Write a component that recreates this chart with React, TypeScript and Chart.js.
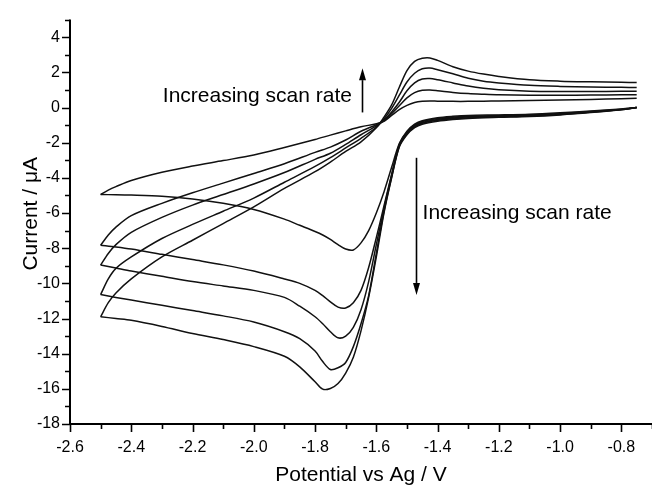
import { useEffect, useRef } from 'react';
import { Chart, registerables } from 'chart.js';

Chart.register(...registerables);

// ---- Data (potential in V vs Ag, current in µA) ----
const forwardPotentials = [
  -0.75, -0.8, -0.9, -1.0, -1.1, -1.2, -1.3, -1.35, -1.4, -1.45, -1.475, -1.5, -1.525, -1.55, -1.575,
  -1.6, -1.625, -1.65, -1.675, -1.7, -1.725, -1.75, -1.775, -1.8, -1.85, -1.9, -2.0, -2.1, -2.2, -2.3,
  -2.4, -2.45, -2.5,
];
const reversePotentials = [
  -2.5, -2.475, -2.45, -2.4, -2.3, -2.2, -2.1, -2.0, -1.9, -1.8, -1.75, -1.7, -1.65, -1.6, -1.575,
  -1.55, -1.525, -1.5, -1.475, -1.45, -1.425, -1.4, -1.35, -1.3, -1.25, -1.2, -1.1, -1.0, -0.9, -0.8, -0.75,
];

const forward1 = [
  0.0, -0.08, -0.2, -0.3, -0.38, -0.42, -0.45, -0.5, -0.58, -0.75, -0.95, -1.35, -2.05, -3.4, -4.8,
  -6.0, -7.0, -7.7, -8.1, -8.05, -7.8, -7.5, -7.25, -7.05, -6.7, -6.35, -5.8, -5.45, -5.2, -5.05,
  -4.98, -4.96, -4.95,
];
const forward2 = [
  0.0, -0.1, -0.23, -0.34, -0.42, -0.46, -0.5, -0.55, -0.63, -0.8, -1.0, -1.4, -2.1, -3.8, -5.6,
  -7.4, -9.1, -10.4, -11.1, -11.4, -11.35, -11.05, -10.7, -10.4, -10.0, -9.75, -9.3, -8.95, -8.65, -8.35,
  -8.05, -7.93, -7.83,
];
const forward3 = [
  0.0, -0.11, -0.25, -0.37, -0.45, -0.5, -0.54, -0.6, -0.68, -0.85, -1.05, -1.45, -2.15, -3.85, -5.75,
  -7.8, -9.9, -11.5, -12.5, -13.0, -13.1, -12.75, -12.3, -11.9, -11.3, -10.8, -10.4, -10.15, -9.9, -9.6,
  -9.3, -9.13, -8.96,
];
const forward4 = [
  0.0, -0.12, -0.27, -0.4, -0.48, -0.53, -0.58, -0.64, -0.73, -0.9, -1.1, -1.5, -2.2, -3.95, -5.9,
  -8.3, -10.7, -12.3, -13.6, -14.5, -14.8, -14.9, -14.45, -13.85, -13.15, -12.75, -12.2, -11.85, -11.55, -11.25,
  -10.95, -10.8, -10.64,
];
const forward5 = [
  0.0, -0.13, -0.29, -0.42, -0.51, -0.56, -0.62, -0.68, -0.78, -0.95, -1.15, -1.55, -2.25, -4.0, -6.0,
  -8.5, -10.8, -12.7, -14.2, -15.1, -15.7, -15.98, -16.02, -15.6, -14.75, -14.15, -13.6, -13.2, -12.85, -12.45,
  -12.1, -12.0, -11.9,
];

const reverse1 = [
  -4.95, -4.7, -4.5, -4.15, -3.68, -3.33, -3.02, -2.7, -2.27, -1.82, -1.57, -1.33, -1.1, -0.92, -0.78,
  -0.45, -0.12, 0.12, 0.28, 0.35, 0.37, 0.36, 0.35, 0.35, 0.36, 0.37, 0.4, 0.43, 0.46, 0.5, 0.52,
];
const reverse2 = [
  -7.83, -7.25, -6.8, -6.15, -5.45, -4.85, -4.3, -3.75, -3.2, -2.55, -2.25, -1.85, -1.35, -0.98, -0.75,
  -0.35, 0.1, 0.55, 0.85, 0.98, 1.0, 0.96, 0.86, 0.79, 0.75, 0.72, 0.7, 0.7, 0.71, 0.72, 0.73,
];
const reverse3 = [
  -8.96, -8.3, -7.8, -7.1, -6.25, -5.55, -4.95, -4.35, -3.7, -2.95, -2.6, -2.1, -1.55, -1.05, -0.72,
  -0.25, 0.3, 0.95, 1.4, 1.62, 1.65, 1.58, 1.4, 1.22, 1.09, 1.01, 0.93, 0.91, 0.91, 0.92, 0.92,
];
const reverse4 = [
  -10.64, -9.75, -9.15, -8.5, -7.45, -6.65, -5.9, -5.15, -4.25, -3.35, -2.85, -2.3, -1.75, -1.12, -0.65,
  -0.05, 0.7, 1.45, 1.95, 2.2, 2.25, 2.15, 1.92, 1.67, 1.5, 1.4, 1.26, 1.2, 1.17, 1.15, 1.14,
];
const reverse5 = [
  -11.9, -11.1, -10.55, -9.75, -8.5, -7.55, -6.6, -5.65, -4.6, -3.65, -3.1, -2.5, -1.95, -1.15, -0.55,
  0.15, 1.15, 2.1, 2.62, 2.8, 2.82, 2.68, 2.32, 2.07, 1.9, 1.77, 1.58, 1.5, 1.46, 1.43, 1.42,
];

const xTickValues = [-2.6, -2.4, -2.2, -2.0, -1.8, -1.6, -1.4, -1.2, -1.0, -0.8];
const xMinorValues = [-2.5, -2.3, -2.1, -1.9, -1.7, -1.5, -1.3, -1.1, -0.9, -0.7];
const yTickValues = [-18, -16, -14, -12, -10, -8, -6, -4, -2, 0, 2, 4];
const yMinorValues = [-17, -15, -13, -11, -9, -7, -5, -3, -1, 1, 3, 5];

const xTitle = 'Potential vs Ag / V';
const yTitle = 'Current / μA';
const annotationText = 'Increasing scan rate';

// annotation anchors in data units
const upLabel = { x: -2.297, y: 0.34 };
const upArrow = { x: -1.648, from: -0.28, to: 2.24 };
const downLabel = { x: -1.449, y: -6.34 };
const downArrow = { x: -1.472, from: -2.86, to: -10.66 };

const FONT = '"Liberation Sans", Arial, Helvetica, sans-serif';

const decorations = {
  id: 'decorations',
  afterDraw(chart: any) {
    const { ctx, chartArea: a, scales } = chart;
    const xs = scales.x;
    const ys = scales.y;
    ctx.save();
    ctx.strokeStyle = '#000';
    ctx.fillStyle = '#000';
    ctx.lineWidth = 2;
    ctx.beginPath();
    ctx.moveTo(a.left, a.top);
    ctx.lineTo(a.left, a.bottom);
    ctx.lineTo(a.right, a.bottom);
    ctx.stroke();

    ctx.lineWidth = 1.6;
    ctx.beginPath();
    yTickValues.forEach((v) => {
      const y = Math.round(ys.getPixelForValue(v)) + 0.5;
      ctx.moveTo(a.left, y);
      ctx.lineTo(a.left - 8, y);
    });
    yMinorValues.forEach((v) => {
      const y = Math.round(ys.getPixelForValue(v)) + 0.5;
      ctx.moveTo(a.left, y);
      ctx.lineTo(a.left - 5, y);
    });
    xTickValues.forEach((v) => {
      const x = Math.round(xs.getPixelForValue(v)) + 0.5;
      ctx.moveTo(x, a.bottom);
      ctx.lineTo(x, a.bottom + 8);
    });
    xMinorValues.forEach((v) => {
      const x = Math.round(xs.getPixelForValue(v)) + 0.5;
      ctx.moveTo(x, a.bottom);
      ctx.lineTo(x, a.bottom + 5);
    });
    ctx.stroke();

    // axis titles
    ctx.font = `21px ${FONT}`;
    ctx.textAlign = 'center';
    ctx.textBaseline = 'alphabetic';
    ctx.fillText(xTitle, (a.left + a.right) / 2, 481);
    ctx.save();
    ctx.translate(37, (a.top + a.bottom) / 2 - 8);
    ctx.rotate(-Math.PI / 2);
    ctx.fillText(yTitle, 0, 0);
    ctx.restore();

    // annotations
    ctx.textAlign = 'left';
    ctx.fillText(annotationText, xs.getPixelForValue(upLabel.x), ys.getPixelForValue(upLabel.y));
    ctx.fillText(annotationText, xs.getPixelForValue(downLabel.x), ys.getPixelForValue(downLabel.y));

    const arrow = (xv: number, fromV: number, toV: number) => {
      const x = Math.round(xs.getPixelForValue(xv)) + 0.5;
      const y0 = ys.getPixelForValue(fromV);
      const y1 = ys.getPixelForValue(toV);
      const dir = y1 < y0 ? -1 : 1;
      const headLen = 12;
      const headHalf = 3.5;
      ctx.lineWidth = 1.6;
      ctx.beginPath();
      ctx.moveTo(x, y0);
      ctx.lineTo(x, y1 - dir * headLen);
      ctx.stroke();
      ctx.beginPath();
      ctx.moveTo(x, y1);
      ctx.lineTo(x - headHalf, y1 - dir * headLen);
      ctx.lineTo(x + headHalf, y1 - dir * headLen);
      ctx.closePath();
      ctx.fill();
    };
    arrow(upArrow.x, upArrow.from, upArrow.to);
    arrow(downArrow.x, downArrow.from, downArrow.to);
    ctx.restore();
  },
};

export default function App() {
  const canvasRef = useRef<HTMLCanvasElement | null>(null);

  useEffect(() => {
    document.body.style.margin = '0';
    const canvas = canvasRef.current;
    if (!canvas) return;

    const curves = [
      [forward1, reverse1],
      [forward2, reverse2],
      [forward3, reverse3],
      [forward4, reverse4],
      [forward5, reverse5],
    ];
    const lineStyle = {
      borderColor: '#111',
      backgroundColor: '#111',
      borderWidth: 1.5,
      pointRadius: 0,
      showLine: true,
      fill: false,
      tension: 0.3,
    };
    const datasets: any[] = [];
    curves.forEach(([f, r], i) => {
      datasets.push({
        ...lineStyle,
        label: `scan ${i + 1} forward`,
        data: forwardPotentials.map((x, j) => ({ x, y: f[j] })),
      });
      datasets.push({
        ...lineStyle,
        label: `scan ${i + 1} reverse`,
        data: reversePotentials.map((x, j) => ({ x, y: r[j] })),
      });
    });

    const chart = new Chart(canvas, {
      type: 'scatter',
      data: { datasets },
      options: {
        animation: false,
        responsive: false,
        maintainAspectRatio: false,
        layout: { padding: { top: 14, right: 0, left: 0, bottom: 0 } },
        plugins: {
          legend: { display: false },
          tooltip: { enabled: false },
        },
        scales: {
          x: {
            type: 'linear',
            min: -2.6,
            max: -0.7,
            afterBuildTicks: (s: any) => {
              s.ticks = xTickValues.map((v) => ({ value: v }));
            },
            afterFit: (s: any) => {
              s.height = 61;
            },
            grid: { display: false, drawTicks: false },
            border: { display: false },
            ticks: {
              color: '#000',
              font: { size: 16, family: FONT },
              padding: 14,
              maxRotation: 0,
              autoSkip: false,
              callback: (v: any) => Number(v).toFixed(1),
            },
          },
          y: {
            type: 'linear',
            min: -18,
            max: 5,
            afterBuildTicks: (s: any) => {
              s.ticks = yTickValues.map((v) => ({ value: v }));
            },
            afterFit: (s: any) => {
              s.width = 70;
            },
            grid: { display: false, drawTicks: false },
            border: { display: false },
            ticks: {
              color: '#000',
              font: { size: 16, family: FONT },
              padding: 10,
              autoSkip: false,
              callback: (v: any) => String(v),
            },
          },
        },
      },
      plugins: [decorations],
    } as any);

    return () => chart.destroy();
  }, []);

  return (
    <div style={{ width: 652, height: 485 }}>
      <canvas ref={canvasRef} width={652} height={485} style={{ display: 'block' }} />
    </div>
  );
}
